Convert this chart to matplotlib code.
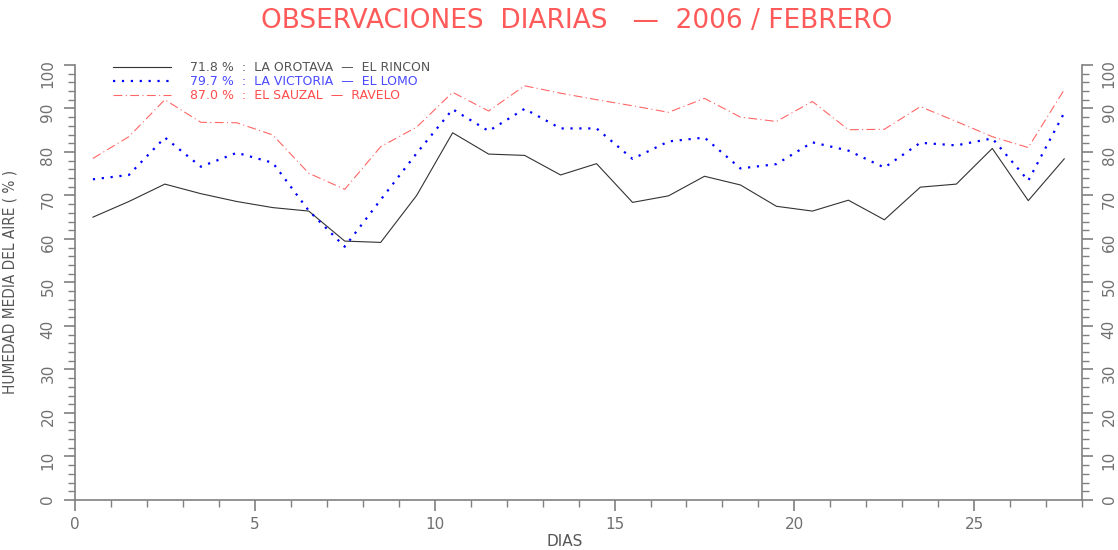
import matplotlib

matplotlib.use("Agg")

import matplotlib.pyplot as plt
from matplotlib.ticker import MultipleLocator

plt.rcParams["font.family"] = ["DejaVu Sans"]

# dias del mes (centro de cada dia)
dias = [d + 0.5 for d in range(28)]

orotava = [65.0, 68.6, 72.6, 70.4, 68.6, 67.2, 66.4, 59.5, 59.2, 70.0,
           84.4, 79.5, 79.2, 74.7, 77.3, 68.4, 69.9, 74.4, 72.4, 67.5,
           66.4, 68.9, 64.4, 71.9, 72.6, 80.8, 68.8, 78.4]
victoria = [73.7, 74.7, 83.3, 76.6, 79.8, 77.5, 66.5, 58.2, 69.0, 79.7,
            89.8, 84.8, 89.9, 85.4, 85.4, 78.4, 82.4, 83.3, 76.2, 77.2,
            82.2, 80.3, 76.4, 82.1, 81.5, 83.1, 73.4, 89.0]
sauzal = [78.5, 83.5, 92.0, 86.8, 86.7, 83.9, 75.1, 71.4, 81.2, 85.7,
          93.7, 89.4, 95.2, 93.5, 92.0, 90.6, 89.1, 92.3, 88.0, 87.0,
          91.6, 85.1, 85.2, 90.4, 87.0, 83.5, 81.0, 94.3]

etiquetas = [
    "71.8 %  :  LA OROTAVA  \u2014  EL RINCON",
    "79.7 %  :  LA VICTORIA  \u2014  EL LOMO",
    "87.0 %  :  EL SAUZAL  \u2014  RAVELO",
]
colores = ["#333333", "#0000ff", "#ff6666"]
colores_texto = ["#555555", "#4a4aff", "#ff4d4d"]

GRIS = "#808080"

fig = plt.figure(figsize=(11.18, 5.5), dpi=100)
ax = fig.add_axes([0.067, 0.091, 0.901, 0.791])

ax.plot(dias, orotava, color=colores[0], linewidth=0.8, linestyle="-", label=etiquetas[0])
ax.plot(dias, victoria, color=colores[1], linewidth=1.6, linestyle=(0, (1, 3)), label=etiquetas[1])
ax.plot(dias, sauzal, color=colores[2], linewidth=0.8, linestyle=(0, (8, 3, 1, 3)), label=etiquetas[2])

ax.set_xlim(0, 28)
ax.set_ylim(0, 100)
ax.xaxis.set_major_locator(MultipleLocator(5))
ax.xaxis.set_minor_locator(MultipleLocator(1))
ax.yaxis.set_major_locator(MultipleLocator(10))
ax.yaxis.set_minor_locator(MultipleLocator(2))

ax.spines["top"].set_visible(False)
for lado in ["left", "right", "bottom"]:
    ax.spines[lado].set_color(GRIS)
    ax.spines[lado].set_linewidth(1.2)

ax.tick_params(which="both", direction="out", colors=GRIS, labelcolor="#707070",
               left=True, right=True, labelright=True, labelsize=11)
ax.tick_params(which="major", length=8, width=1.2)
ax.tick_params(which="minor", length=5, width=1)
ax.tick_params(axis="x", pad=4)
ax.tick_params(axis="y", pad=6, labelrotation=90)

ax.set_ylabel("HUMEDAD MEDIA DEL AIRE ( % )", fontsize=11, color="#555555",
              fontstretch="condensed")
ax.yaxis.set_label_coords(-0.057, 0.5)
ax.set_xlabel("DIAS", fontsize=11, color="#555555")
ax.xaxis.set_label_coords(0.486, -0.078)

fig.suptitle("OBSERVACIONES  DIARIAS   \u2014  2006 / FEBRERO", x=0.516, y=0.985,
             fontsize=19, color="#ff5a5a")

leg = ax.legend(loc="upper left", bbox_to_anchor=(0.027, 1.035), frameon=False,
                fontsize=9, handlelength=4.6, handletextpad=1.5, labelspacing=0.1,
                labelcolor=colores_texto)

fig.savefig("out.png", dpi=100)
